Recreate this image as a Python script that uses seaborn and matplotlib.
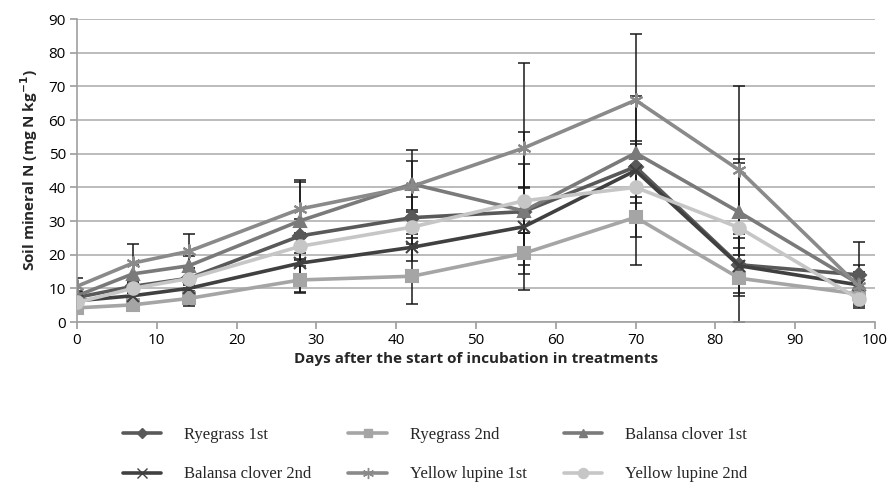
import numpy as np
import pandas as pd
import matplotlib
matplotlib.use("Agg")
import matplotlib.pyplot as plt
import seaborn as sns
from matplotlib.lines import Line2D

days = [0, 7, 14, 28, 42, 56, 70, 83, 98]
series_names = ["Ryegrass 1st", "Ryegrass 2nd", "Balansa clover 1st",
                "Balansa clover 2nd", "Yellow lupine 1st", "Yellow lupine 2nd"]

ryegrass_1 = [7.3, 10.6, 13.0, 25.6, 31.0, 32.8, 46.1, 17.0, 14.0]
ryegrass_2 = [4.2, 5.1, 7.0, 12.5, 13.6, 20.4, 31.1, 13.0, 8.3]
balansa_1 = [7.8, 14.3, 16.7, 30.1, 41.0, 33.0, 50.2, 32.6, 11.3]
balansa_2 = [6.3, 7.8, 10.0, 17.5, 22.2, 28.3, 45.0, 16.7, 11.0]
lupine_1 = [10.6, 17.5, 21.0, 33.6, 40.3, 51.7, 65.9, 45.1, 10.6]
lupine_2 = [5.8, 10.0, 12.9, 22.5, 28.2, 36.0, 40.0, 28.0, 6.8]

ryegrass_1_err = [1.5, 2.0, 3.0, 5.0, 6.0, 14.0, 20.9, 4.9, 9.7]
ryegrass_2_err = [1.0, 1.5, 2.3, 4.0, 8.3, 6.0, 14.2, 13.0, 3.0]
balansa_1_err = [1.5, 2.5, 3.0, 11.5, 10.2, 23.5, 3.6, 14.5, 5.6]
balansa_2_err = [1.0, 1.5, 2.0, 8.7, 4.0, 11.4, 8.0, 8.2, 4.0]
lupine_1_err = [2.4, 5.8, 5.0, 8.6, 7.6, 25.2, 19.6, 25.1, 4.0]
lupine_2_err = [1.0, 1.5, 2.0, 4.0, 5.0, 4.0, 4.6, 20.3, 2.0]

values = [ryegrass_1, ryegrass_2, balansa_1, balansa_2, lupine_1, lupine_2]
errors = [ryegrass_1_err, ryegrass_2_err, balansa_1_err, balansa_2_err, lupine_1_err, lupine_2_err]

colors = ["#595959", "#a5a5a5", "#7a7a7a", "#404040", "#8a8a8a", "#c6c6c6"]
asterisk = (6, 2, 0)
markers = ["D", "s", "^", "x", asterisk, "o"]
msizes = [7, 8, 8, 9, 10, 9]

rows = []
for name, vals in zip(series_names, values):
    for d, v in zip(days, vals):
        rows.append({"day": d, "N": v, "series": name})
df = pd.DataFrame(rows)

sns.set_theme(style="white")
plt.rcParams['font.family'] = ['Open Sans', 'DejaVu Sans']

fig = plt.figure(figsize=(8.91, 4.86), dpi=100)
ax = fig.add_axes([0.0864, 0.3374, 0.8956, 0.6235])

for vals, errs in zip(values, errors):
    ax.errorbar(days, vals, yerr=errs, fmt="none", ecolor="#1a1a1a",
                elinewidth=1.1, capsize=4.5, capthick=1.1, zorder=2)

for name, c, m, ms in zip(series_names, colors, markers, msizes):
    sub = df[df["series"] == name]
    sns.lineplot(data=sub, x="day", y="N", ax=ax, color=c, marker=m,
                 markersize=ms, markeredgecolor=c, markeredgewidth=1.5,
                 linewidth=2.6, zorder=3, legend=False, errorbar=None)

ax.set_xlim(0, 100)
ax.set_ylim(0, 90)
ax.set_xticks(range(0, 101, 10))
ax.set_yticks(range(0, 91, 10))
ax.yaxis.grid(True, color="#b0b0b0", linewidth=1.2)
ax.xaxis.grid(False)
for s in ["top", "right"]:
    ax.spines[s].set_visible(False)
for s in ["left", "bottom"]:
    ax.spines[s].set_color("#a0a0a0")
    ax.spines[s].set_linewidth(1.2)
ax.tick_params(axis="both", which="both", direction="out", length=5,
               color="#a0a0a0", labelsize=11, labelcolor="#000000",
               left=True, bottom=True, pad=3)
ax.set_xlabel("Days after the start of incubation in treatments",
              fontsize=11, fontweight="bold", labelpad=3)
ax.set_ylabel("Soil mineral N (mg N kg$^{\\mathbf{-1}}$)", fontsize=11,
              fontweight="bold", labelpad=6)

handles = [Line2D([0], [0], color=c, marker=m, markersize=ms * 0.8,
                  markeredgecolor=c, linewidth=2.6)
           for c, m, ms in zip(colors, markers, msizes)]
order = [0, 3, 1, 4, 2, 5]
leg = fig.legend([handles[i] for i in order], [series_names[i] for i in order],
                 ncol=3, loc="upper left", bbox_to_anchor=(0.121, 0.152),
                 frameon=False, handlelength=2.3, columnspacing=2.2,
                 labelspacing=1.4, handletextpad=1.4,
                 prop={"family": "Liberation Serif", "size": 12})

fig.savefig("out.png", dpi=100)
